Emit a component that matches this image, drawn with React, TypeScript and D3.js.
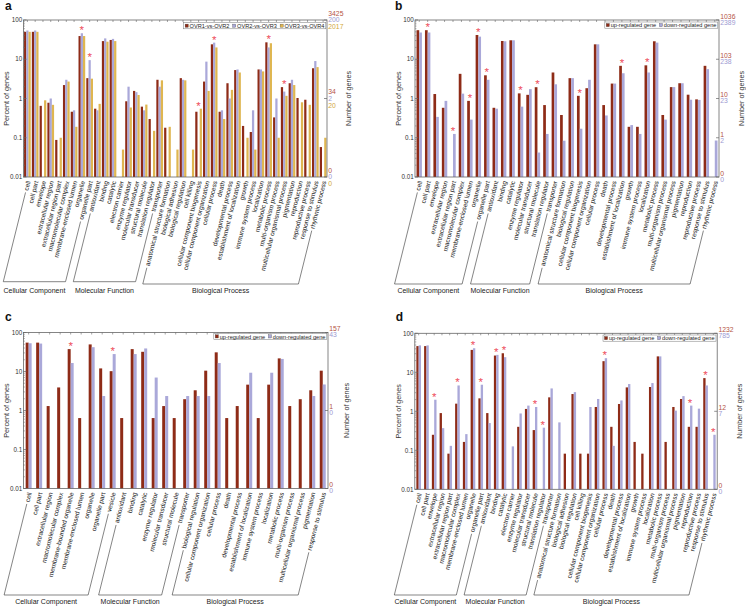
import React, { useEffect, useRef } from 'react';
import * as d3 from 'd3';

const W = 746, H = 606;
const RED = '#8e2b17', BLUE = '#aaa8d9', YELLOW = '#dfb650';
const RED_T = '#b4533f', BLUE_T = '#9d9ad2', YELLOW_T = '#d2a83a';
const STAR = '#ee4d5c';
const FONT = '"Liberation Sans", Arial, Helvetica, sans-serif';
const ANG = 76;

const catsFull = ["cell","cell part","envelope","extracellular region","extracellular region part","macromolecular complex","membrane-enclosed lumen","organelle","organelle part","antioxidant","binding","catalytic","electron carrier","enzyme regulator","molecular transducer","structural molecule","translation regulator","transporter","anatomical structure formation","biological adhesion","biological regulation","cell killing","cellular component biogenesis","cellular component organization","cellular process","death","developmental process","establishment of localization","growth","immune system process","localization","metabolic process","multi-organism process","multicellular organismal process","pigmentation","reproduction","reproductive process","response to stimulus","rhythmic process"];
const catsB = ["cell","cell part","envelope","extracellular region","extracellular region part","macromolecular complex","membrane-enclosed lumen","organelle","organelle part","antioxidant","binding","catalytic","enzyme regulator","molecular transducer","structural molecule","translation regulator","transporter","anatomical structure formation","biological regulation","cellular component biogenesis","cellular component organization","cellular process","death","developmental process","establishment of localization","growth","immune system process","localization","metabolic process","multi-organism process","multicellular organismal process","pigmentation","reproduction","reproductive process","response to stimulus","rhythmic process"];
const catsC = ["cell","cell part","extracellular region","macromolecular complex","membrane-bounded organelle","membrane-enclosed lumen","organelle","organelle part","vesicle","antioxidant","binding","catalytic","enzyme regulator","molecular transducer","structural molecule","transporter","biological regulation","cellular component organization","cellular process","death","developmental process","establishment of localization","immune system process","localization","metabolic process","multi-organism process","multicellular organismal process","pigmentation","response to stimulus"];

// Panel a: OVR1-vs-OVR2, OVR2-vs-OVR3, OVR3-vs-OVR4 (percent of genes)
const aOvr12 = [50,50,0.65,0.78,0.088,2.2,0.46,39,3.3,0.55,29,31,0,0.85,1.56,0.62,0.3,3.0,0.18,0,3.3,0,0.46,2.7,24,0.46,2.45,5.3,0.2,0.14,5.5,27,0.33,1.95,2.45,1.03,0.93,5.9,0.058];
const aOvr23 = [54,54,0,1.0,0,3.0,0.5,46,9.5,0.5,34,33,0,2.0,1.45,0.5,0,2.0,0,0,3.0,0,0,8.7,26.5,0.5,1.0,5.5,0,0.5,5.5,20,1.0,1.5,3.0,0,0,9.0,0];
const aOvr34 = [50,50,0.9,0.69,0.1,2.7,0.19,39,3.2,0.73,28,29,0.05,0.59,1.23,0.7,0.15,2.9,0.19,0.05,2.9,0.05,0.55,1.56,20,0.3,1.66,4.6,0.1,0.05,4.9,25.6,0.1,1.17,2.2,0.8,0.69,6.3,0.1];
const aStars = [7,8,22,24,31,33];

// Panel b: up / down regulated
const bUp = [55,55,1.3,0.58,0,4.25,0.87,41.5,3.9,0.58,29.2,30.4,1.35,1.24,1.94,0.68,4.6,0.38,3.3,1.17,1.83,24,0.68,2.4,6.8,0.19,0.19,7.0,28.7,0.38,1.95,2.45,1.25,0.95,6.8,0];
const bDown = [48,48,0.34,0.87,0.125,1.33,0.29,37.7,3.0,0.55,28.7,30.4,0.62,1.73,0.042,0.125,2.3,0.084,3.3,0.17,3.0,24,0.37,2.4,4.4,0.21,0.125,4.6,26.5,0.29,1.95,2.45,0.93,0.92,5.6,0.085];
const bStars = [1,4,6,7,8,12,14,19,24,27];

// Panel c
const cUp = [55,55,1.3,3.9,37.5,0.64,49.5,12,10.2,0.64,37.5,32,0.64,1.3,0.64,1.95,3.3,10.5,31,0.64,1.3,4.6,0.64,4.6,21.7,1.3,1.95,3.3,10.5];
const cDown = [53,52,0,0,16.5,0,42,2.35,28,0,28,39,7,2.35,0,2.35,2.35,2.35,16.5,0,0,9.3,0,9.3,21,0,0,2.35,4.65];
const cStars = [4,8];

// Panel d
const dUp = [47,47,0.25,0.9,0.082,1.57,0.164,37.5,2.15,0.9,26.9,30.8,0,0.4,1.15,0.33,0,2.28,0,0.082,2.77,0.082,0.082,1.29,19.3,0.4,1.54,4.1,0.164,0.082,4.2,25.6,0.164,1.29,2.07,0.4,0.4,7.1,0];
const dDown = [49,49,1.98,0.37,0.13,4.6,0.26,41.4,4.8,0.5,28,24.4,0.126,0.88,1.4,1.29,0.38,3.86,0.52,0,3.1,0,1.29,2.07,23,0.13,1.9,5,0,0,5.3,25.6,0,1.04,2.45,1.4,1.17,4.6,0.25];
const dStars = [2,5,7,8,10,11,15,16,24,35,37,38];

const legendA = ["OVR1-vs-OVR2","OVR2-vs-OVR3","OVR3-vs-OVR4"];
const legendUD = ["up-regulated gene","down-regulated gene"];
const leftTicks = [100,10,1,0.1,0.01];
const leftTickLabels = ["100","10","1","0.1","0.01"];
const groupNames = ["Cellular Component","Molecular Function","Biological Process"];

const rightA = [{ v: 100, t: ["3425","200","2017"] }, { v: 1, t: ["34","2","20"] }, { v: 0.01, t: ["0","0","0"] }];
const rightB = [{ v: 100, t: ["1036","2389"] }, { v: 10, t: ["103","238"] }, { v: 1, t: ["10","23"] }, { v: 0.1, t: ["1","2"] }, { v: 0.01, t: ["0","0"] }];
const rightC = [{ v: 100, t: ["157","43"] }, { v: 1, t: ["1","0"] }, { v: 0.01, t: ["0","0"] }];
const rightD = [{ v: 100, t: ["1232","785"] }, { v: 1, t: ["12","7"] }, { v: 0.01, t: ["0","0"] }];

interface Panel {
  letter: string; lx: number; ly: number;
  x0: number; x1: number; yTop: number; yBot: number;
  cats: string[]; series: number[][]; colors: string[]; tcolors: string[];
  legend: string[]; legTop: number; right: { v: number; t: string[] }[];
  stars: number[]; groups: [number, number, number][]; nameY: number;
  barFrac: number; leftTitleX: number; rightTitleX: number;
}

const panels: Panel[] = [
  { letter: 'a', lx: 5, ly: 10, x0: 23.5, x1: 327, yTop: 20, yBot: 177, cats: catsFull,
    series: [aOvr12, aOvr23, aOvr34], colors: [RED, BLUE, YELLOW], tcolors: [RED_T, BLUE_T, YELLOW_T],
    legend: legendA, legTop: 22.6, right: rightA, stars: aStars,
    groups: [[0, 8, 281.7], [9, 17, 281.7], [18, 38, 284]], nameY: 292.5, barFrac: 0.86, leftTitleX: 6.5, rightTitleX: 348.3 },
  { letter: 'b', lx: 395, ly: 10, x0: 415, x1: 719, yTop: 20, yBot: 177, cats: catsB,
    series: [bUp, bDown], colors: [RED, BLUE], tcolors: [RED_T, BLUE_T],
    legend: legendUD, legTop: 22, right: rightB, stars: bStars,
    groups: [[0, 8, 284], [9, 16, 284], [17, 35, 284]], nameY: 292.7, barFrac: 0.64, leftTitleX: 398, rightTitleX: 741 },
  { letter: 'c', lx: 5, ly: 320.7, x0: 23.4, x1: 328, yTop: 332.5, yBot: 488.5, cats: catsC,
    series: [cUp, cDown], colors: [RED, BLUE], tcolors: [RED_T, BLUE_T],
    legend: legendUD, legTop: 333.3, right: rightC, stars: cStars,
    groups: [[0, 8, 595], [9, 15, 595], [16, 28, 595]], nameY: 603.5, barFrac: 0.57, leftTitleX: 6.5, rightTitleX: 346 },
  { letter: 'd', lx: 395.7, ly: 320.7, x0: 414.8, x1: 717.2, yTop: 333.3, yBot: 489.3, cats: catsFull,
    series: [dUp, dDown], colors: [RED, BLUE], tcolors: [RED_T, BLUE_T],
    legend: legendUD, legTop: 335, right: rightD, stars: dStars,
    groups: [[0, 8, 595], [9, 17, 595], [18, 38, 595]], nameY: 603.5, barFrac: 0.6, leftTitleX: 398, rightTitleX: 739 },
];

function drawPanel(root: d3.Selection<SVGGElement, unknown, null, undefined>, p: Panel) {
  const g = root.append('g');
  const x = d3.scaleBand<number>().domain(d3.range(p.cats.length)).range([p.x0, p.x1]);
  const y = d3.scaleLog().domain([0.01, 100]).range([p.yBot, p.yTop]);
  const bw = x.bandwidth();
  const n = p.series.length;
  const gw = bw * p.barFrac;
  const barW = gw / n;
  const cx = (i: number) => (x(i) as number) + bw / 2;

  p.series.forEach((vals, si) => {
    g.append('g').selectAll('rect')
      .data(vals.map((v, i) => ({ v, i })).filter(d => d.v > 0))
      .join('rect')
      .attr('x', d => cx(d.i) - gw / 2 + si * barW)
      .attr('y', d => y(Math.max(d.v, 0.01)))
      .attr('width', barW)
      .attr('height', d => p.yBot - y(Math.max(d.v, 0.01)))
      .attr('fill', p.colors[si]);
  });

  // frame
  const axc = '#666';
  g.append('rect').attr('x', p.x0).attr('y', p.yTop).attr('width', p.x1 - p.x0).attr('height', p.yBot - p.yTop)
    .attr('fill', 'none').attr('stroke', axc).attr('stroke-width', 0.8);

  // left ticks
  const minors: number[] = [];
  [0.01, 0.1, 1, 10].forEach(dec => { for (let k = 2; k <= 9; k++) minors.push(dec * k); });
  g.append('g').selectAll('line').data(minors).join('line')
    .attr('x1', p.x0).attr('x2', p.x0 + 1.5).attr('y1', d => y(d)).attr('y2', d => y(d))
    .attr('stroke', axc).attr('stroke-width', 0.5);
  g.append('g').selectAll('line').data(leftTicks).join('line')
    .attr('x1', p.x0).attr('x2', p.x0 + 3).attr('y1', d => y(d)).attr('y2', d => y(d))
    .attr('stroke', axc).attr('stroke-width', 0.7);
  g.append('g').selectAll('text').data(leftTicks).join('text')
    .attr('x', p.x0 - 1.2).attr('y', d => y(d)).attr('dy', '0.35em')
    .attr('text-anchor', 'end').attr('font-size', 6.3).attr('fill', '#333').attr('font-family', FONT)
    .text((d, i) => leftTickLabels[i]);

  // right ticks & labels
  g.append('g').selectAll('line').data(p.right).join('line')
    .attr('x1', p.x1 - 3).attr('x2', p.x1).attr('y1', d => y(d.v)).attr('y2', d => y(d.v))
    .attr('stroke', axc).attr('stroke-width', 0.7);
  p.right.forEach(r => {
    const m = r.t.length;
    r.t.forEach((t, k) => {
      const off = m === 3 ? (k - 1) * 6.7 : (k === 0 ? -3.6 : 2.6);
      g.append('text').attr('x', p.x1 + 1.3).attr('y', y(r.v) + off).attr('dy', '0.35em')
        .attr('font-size', 6.8).attr('fill', p.tcolors[k]).attr('font-family', FONT).text(t);
    });
  });

  // top category ticks
  g.append('g').selectAll('line').data(d3.range(p.cats.length)).join('line')
    .attr('x1', d => cx(d)).attr('x2', d => cx(d)).attr('y1', p.yTop).attr('y2', p.yTop + 2)
    .attr('stroke', axc).attr('stroke-width', 0.6);

  // titles
  const midY = (p.yTop + p.yBot) / 2;
  g.append('text').attr('transform', `translate(${p.leftTitleX},${midY}) rotate(-90)`).attr('dy', '0.35em')
    .attr('text-anchor', 'middle').attr('font-size', 7.2).attr('fill', '#333').attr('font-family', FONT).text('Percent of genes');
  g.append('text').attr('transform', `translate(${p.rightTitleX},${midY}) rotate(-90)`).attr('dy', '0.35em')
    .attr('text-anchor', 'middle').attr('font-size', 7.2).attr('fill', '#333').attr('font-family', FONT).text('Number of genes');
  g.append('text').attr('x', p.lx).attr('y', p.ly).attr('font-size', 12).attr('font-weight', 'bold')
    .attr('fill', '#111').attr('font-family', FONT).text(p.letter);

  // stars
  p.stars.forEach(i => {
    const mx = d3.max(p.series, s => s[i]) as number;
    const sy = y(mx) - 5.5;
    g.append('text').attr('x', cx(i)).attr('y', sy + 6.5).attr('text-anchor', 'middle')
      .attr('font-size', 11.5).attr('fill', STAR).attr('font-family', FONT).text('*');
  });

  // category labels
  const th = ANG * Math.PI / 180;
  const lens: number[] = [];
  p.cats.forEach((c, i) => {
    const ax = cx(i) + 1, ay = p.yBot + 4;
    const t = g.append('text').attr('transform', `translate(${ax},${ay}) rotate(${-ANG})`)
      .attr('dy', '0.35em').attr('text-anchor', 'end').attr('font-size', 6.5).attr('fill', '#222')
      .attr('font-family', FONT).text(c);
    lens[i] = (t.node() as SVGTextElement).getComputedTextLength();
  });

  // brackets
  p.groups.forEach(([f, l, by], gi) => {
    const pts = (i: number) => {
      const ax = cx(i) + 1, ay = p.yBot + 4;
      const L = lens[i] + 2;
      const s: [number, number] = [ax - L * Math.cos(th), ay + L * Math.sin(th)];
      const e: [number, number] = [ax - (by - ay) / Math.tan(th), by];
      return [s, e];
    };
    const [sf, ef] = pts(f);
    const [sl, el] = pts(l);
    g.append('path').attr('d', d3.line()([sf, ef, el, sl]))
      .attr('fill', 'none').attr('stroke', '#333').attr('stroke-width', 0.6);
    g.append('text').attr('x', (ef[0] + el[0]) / 2).attr('y', p.nameY).attr('text-anchor', 'middle')
      .attr('font-size', 7).attr('fill', '#222').attr('font-family', FONT).text(groupNames[gi]);
  });

  // legend
  const lg = g.append('g');
  const fs = 5.6, sq = 3.2, pad = 1.4, gap1 = 1.3, gap2 = 3.2, lh = 6.2;
  const items = p.legend.map((name, k) => {
    const t = lg.append('text').attr('font-size', fs).attr('fill', '#222').attr('font-family', FONT)
      .attr('dy', '0.35em').text(name);
    return { t, w: (t.node() as SVGTextElement).getComputedTextLength(), k };
  });
  const total = pad * 2 + items.reduce((a, it) => a + sq + gap1 + it.w, 0) + gap2 * (items.length - 1);
  const bx = p.x1 - 1.2 - total;
  lg.insert('rect', 'text').attr('x', bx).attr('y', p.legTop).attr('width', total).attr('height', lh)
    .attr('fill', '#fff').attr('stroke', '#777').attr('stroke-width', 0.5);
  let cur = bx + pad;
  const cyL = p.legTop + lh / 2;
  items.forEach(it => {
    lg.append('rect').attr('x', cur).attr('y', cyL - sq / 2).attr('width', sq).attr('height', sq)
      .attr('fill', p.colors[it.k]).attr('stroke', '#444').attr('stroke-width', 0.3);
    cur += sq + gap1;
    it.t.attr('x', cur).attr('y', cyL + 0.2);
    cur += it.w + gap2;
  });
}

export default function App() {
  const ref = useRef<SVGSVGElement>(null);
  useEffect(() => {
    const svg = d3.select(ref.current as SVGSVGElement);
    svg.selectAll('*').remove();
    const root = svg.append('g');
    panels.forEach(p => drawPanel(root as any, p));
  }, []);
  return (
    <svg ref={ref} width={W} height={H} viewBox={`0 0 ${W} ${H}`}
      style={{ position: 'absolute', left: 0, top: 0, background: '#fff' }} />
  );
}
